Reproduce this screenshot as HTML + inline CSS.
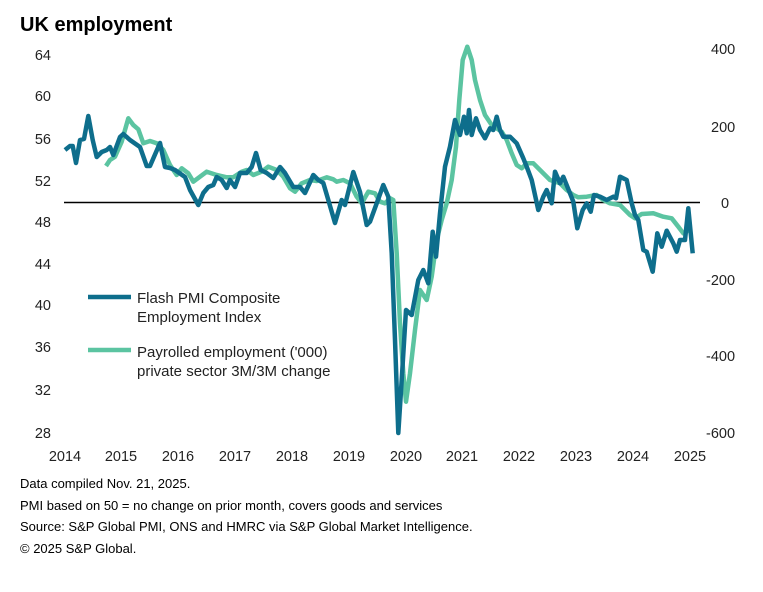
<!DOCTYPE html>
<html><head><meta charset="utf-8"><style>
body{margin:0;background:#fff;width:763px;height:587px;overflow:hidden;font-family:"Liberation Sans",Arial,sans-serif}
</style></head><body>
<svg width="763" height="587" viewBox="0 0 763 587" xmlns="http://www.w3.org/2000/svg" font-family="Liberation Sans, Arial, sans-serif">
<text x="20" y="31" font-size="20" font-weight="bold" fill="#000">UK employment</text>
<g font-size="14.5" fill="#222" text-anchor="end">
<text x="51" y="60">64</text><text x="51" y="101">60</text><text x="51" y="144">56</text><text x="51" y="186">52</text><text x="51" y="227">48</text><text x="51" y="269">44</text><text x="51" y="310">40</text><text x="51" y="352">36</text><text x="51" y="395">32</text><text x="51" y="438">28</text>
</g>
<g font-size="14.5" fill="#222" text-anchor="start">
<text x="711" y="54">400</text><text x="711" y="132">200</text><text x="721" y="208">0</text><text x="706" y="285">-200</text><text x="706" y="361">-400</text><text x="706" y="438">-600</text>
</g>
<g font-size="14.5" fill="#222" text-anchor="middle">
<text x="65" y="461">2014</text><text x="121" y="461">2015</text><text x="178" y="461">2016</text><text x="235" y="461">2017</text><text x="292" y="461">2018</text><text x="349" y="461">2019</text><text x="406" y="461">2020</text><text x="462" y="461">2021</text><text x="519" y="461">2022</text><text x="576" y="461">2023</text><text x="633" y="461">2024</text><text x="690" y="461">2025</text>
</g>
<line x1="64" y1="202.5" x2="700" y2="202.5" stroke="#000" stroke-width="1.6"/>
<polyline fill="none" stroke="#5bc4a1" stroke-width="4.5" stroke-linejoin="round" points="106,166 110,160 115,156.7 121.7,141.7 128.3,118.3 133.3,125 138.3,129.3 143.3,143.3 150,141 156.7,143.3 163.3,150 170,165 176.7,175 181.7,168.3 188.3,173.3 193.3,181.7 200,176.7 206.7,171.7 216.7,175 226.7,177.3 233.3,177.3 241.7,171.7 246.7,170 253.3,175 261.7,171.7 268.3,166.7 276.7,170 283.3,176.7 290,188.3 295,191.7 301.7,183.3 310,180 316.7,181 326.7,177.3 333.3,179.3 336.7,181.7 343.3,180 350,183.3 356.7,196.7 361.7,203.3 368.3,191.7 375,193.3 380,201.7 385,203.3 390,198.3 393.3,200 396.7,253.3 400,323.3 403.3,373.3 406,401.7 410,373.3 415,330 420,290 426.7,300 431.7,276.7 436.7,240 441.7,220 446.7,203.3 451.7,180 456,146.7 459.3,100 462.7,60 467.3,46.7 471.7,60 475,80 480,100 485,115 491.7,125 501.7,131.7 506.7,140 511.7,153.3 516.7,165 521.7,168.3 526.7,163.3 533.3,163.3 540,170 550,180 560,183.3 566.7,190 573.3,195 578.3,197.3 586.7,196.7 596.7,195 603.3,200 610,203.3 620,205 630,215 635,218.3 641.7,214 653.3,213.3 663.3,216.7 671.7,218.3 678.3,226.7 683.3,233.3 689.3,230"/>
<polyline fill="none" stroke="#0e6e8c" stroke-width="4.5" stroke-linejoin="round" points="65,150 70,146 72.7,146 76,163 80,140 84,139 88.3,116 92.7,140 96.7,157 101.7,152 106.7,150 110,147 113.3,155 120,137 123.3,134 130,140 140,147 146.7,166 150,166 160,143 165,167 170,168 175,170 185,177 190,190 198.3,205 203.3,193 208.3,187 213.3,185 216.7,177 221.7,180 226.7,188 230,180 235,187 240,173 246.7,173 251.7,167 256,153 260.7,170 266.7,173 273.3,178 280,167 285,173 293.3,187 300,187 305,193 313.3,175 318.3,180 323.3,183 328.3,200 335,223 341.7,200 345,205 353.3,172 360,192 366.7,225 370,221.7 376.7,203.3 383.3,185 388.3,196.7 391.7,253.3 395,340 398.3,433 401.7,380 406,310 411.7,315 418.3,280 423.3,270 428.3,283.3 432.7,231.7 436,256.7 440,213.3 445,166.7 450,146.7 455,120 460,135 464,116.7 466.7,133.3 469,110 471.7,135 476,118.3 480,130 485,138.3 490,128.3 493.3,130 496.7,116.7 500,130 503.3,136.7 510,136.7 516.7,143.3 523.3,158.3 526.7,166.7 531.7,180 538.3,210 543.3,196.7 546.7,190 551.7,203.3 555,171.7 560,183.3 563.3,176.7 570,193.3 573.3,201.7 577.3,228.3 582.7,210 586.7,203.3 590.7,211.7 594,195 600,196.7 606.7,200 613.3,196.7 616,198.3 620,176.7 626.7,180 631.7,203.3 635,215 638.3,220 643.3,250 646.7,251.7 652.7,271.7 657.3,233.3 661.7,246.7 666.7,230.7 673.3,243.3 676.7,251.7 680,240 685,240 688.3,208.3 692.7,253.3"/>
<line x1="88" y1="297" x2="131" y2="297" stroke="#0e6e8c" stroke-width="4.5"/>
<line x1="88" y1="350" x2="131" y2="350" stroke="#5bc4a1" stroke-width="4.5"/>
<g font-size="15" fill="#222">
<text x="137" y="303">Flash PMI Composite</text><text x="137" y="322">Employment Index</text>
<text x="137" y="357">Payrolled employment ('000)</text><text x="137" y="376">private sector 3M/3M change</text>
</g>
<g font-size="13" fill="#000">
<text x="20" y="488">Data compiled Nov. 21, 2025.</text>
<text x="20" y="510">PMI based on 50 = no change on prior month, covers goods and services</text>
<text x="20" y="531">Source: S&amp;P Global PMI, ONS and HMRC via S&amp;P Global Market Intelligence.</text>
<text x="20" y="553">© 2025 S&amp;P Global.</text>
</g>
</svg>
</body></html>
